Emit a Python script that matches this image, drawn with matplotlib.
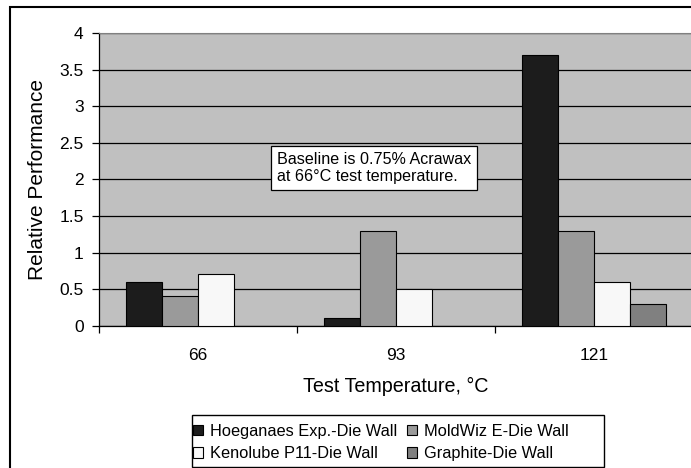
import matplotlib
matplotlib.use("Agg")
import matplotlib.pyplot as plt
import numpy as np
from matplotlib.patches import Rectangle

plt.rcParams['font.family'] = ['Liberation Sans', 'DejaVu Sans']

categories = ["66", "93", "121"]
series_names = ["Hoeganaes Exp.-Die Wall", "MoldWiz E-Die Wall",
                "Kenolube P11-Die Wall", "Graphite-Die Wall"]
hoeganaes = [0.6, 0.1, 3.7]
moldwiz = [0.4, 1.3, 1.3]
kenolube = [0.7, 0.5, 0.6]
graphite = [np.nan, np.nan, 0.3]   # no bar shown at 66 and 93
series_values = [hoeganaes, moldwiz, kenolube, graphite]
colors = ["#1c1c1c", "#9a9a9a", "#f8f8f8", "#808080"]
yticks = [0, 0.5, 1, 1.5, 2, 2.5, 3, 3.5, 4]
ytick_labels = ["0", "0.5", "1", "1.5", "2", "2.5", "3", "3.5", "4"]

W, H = 691, 468
fig = plt.figure(figsize=(W / 100, H / 100), dpi=100)
fig.patch.set_facecolor("white")

# outer chart border
fig.patches.append(Rectangle((10 / W, -0.1), 1.2, 1 - 7 / H + 0.1,
                             transform=fig.transFigure, fill=False,
                             edgecolor="black", linewidth=1.5))

ax = fig.add_axes([99 / W, (H - 325.7) / H, 594 / W, 292.7 / H])
ax.set_facecolor("#c0c0c0")

x = np.arange(len(categories))
bw = 36 / 198
for i, (vals, name, c) in enumerate(zip(series_values, series_names, colors)):
    ax.bar(x + (i - 1.5) * bw, vals, width=bw, color=c, edgecolor="black",
           linewidth=0.8, label=name, zorder=3)

ax.set_xlim(-0.5, 2.5)
ax.set_ylim(0, 4)
ax.set_yticks(yticks)
ax.set_yticklabels(ytick_labels)
ax.yaxis.grid(True, color="black", linewidth=0.9, zorder=1)
ax.set_axisbelow(True)

ax.set_xticks([-0.5, 0.5, 1.5, 2.5])
ax.set_xticklabels([])
ax.set_xticks(x, minor=True)
ax.set_xticklabels(categories, minor=True)
ax.tick_params(axis="x", which="major", length=5, direction="out", width=0.9)
ax.tick_params(axis="x", which="minor", length=0, pad=16, labelsize=12.5)
ax.tick_params(axis="y", length=5, direction="out", width=0.9, pad=6, labelsize=12.5)

for s in ["left", "bottom"]:
    ax.spines[s].set_color("black")
    ax.spines[s].set_linewidth(0.9)
ax.spines["top"].set_color("#808080")
ax.spines["right"].set_visible(False)

ax.set_xlabel("Test Temperature, °C", fontsize=14.2, labelpad=10)
ax.set_ylabel("Relative Performance", fontsize=15, labelpad=9)

fig.text(277 / W, 1 - 168 / H, "Baseline is 0.75% Acrawax\nat 66°C test temperature.",
         fontsize=11.6, va="center", ha="left", linespacing=1.25,
         bbox=dict(boxstyle="square,pad=0.35", facecolor="white",
                   edgecolor="black", linewidth=0.9))

# legend frame (drawn separately to match the original's box size)
fig.patches.append(Rectangle((192 / W, (H - 467) / H), (604 - 192) / W, (467 - 415) / H,
                             transform=fig.transFigure, fill=True, facecolor="white",
                             edgecolor="black", linewidth=1.0, zorder=1))

handles, labels = ax.get_legend_handles_labels()
order = [0, 2, 1, 3]
leg = fig.legend([handles[k] for k in order], [labels[k] for k in order],
                 ncol=2, loc="upper left", bbox_to_anchor=(193 / W, 1 - 424 / H),
                 fontsize=11.8, frameon=False,
                 handlelength=0.6, handleheight=0.6, handletextpad=0.45,
                 columnspacing=0.6, borderpad=0, labelspacing=0.45,
                 borderaxespad=0)
leg.set_zorder(5)

fig.savefig("out.png", dpi=100)
